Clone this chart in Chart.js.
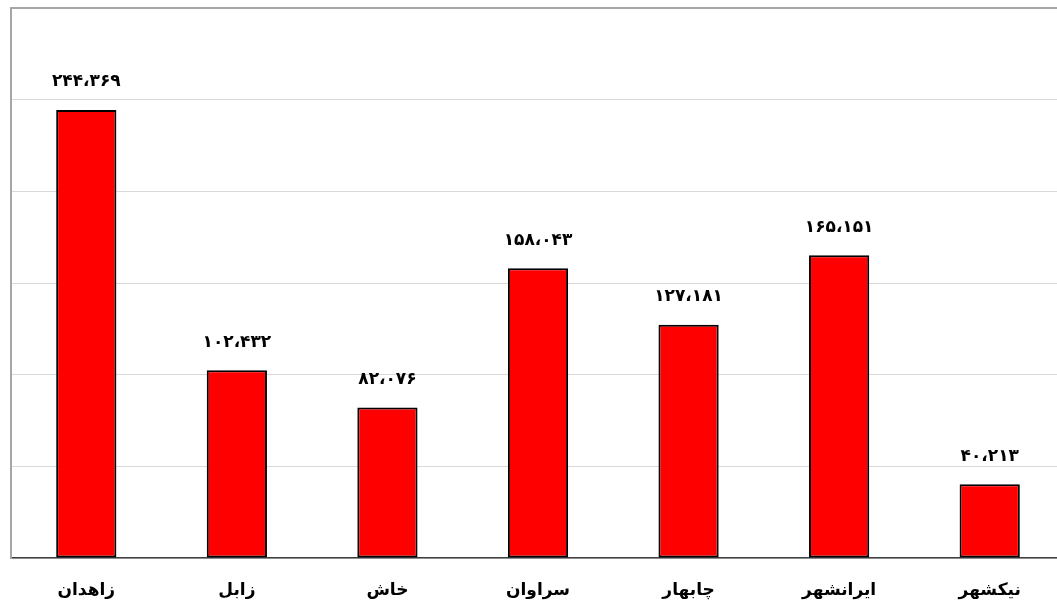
<!DOCTYPE html>
<html>
<head>
<meta charset="utf-8">
<script src="https://cdn.jsdelivr.net/npm/chart.js@4"></script>
<style>
  html, body { margin: 0; padding: 0; overflow: hidden; background: #fff; }
  #wrap { width: 1065px; height: 603px; }
</style>
</head>
<body>
<div id="wrap"><canvas id="cityChart" width="1065" height="603"></canvas></div>
<script>
const cities = ["زاهدان", "زابل", "خاش", "سراوان", "چابهار", "ایرانشهر", "نیکشهر"];
const population = [244369, 102432, 82076, 158043, 127181, 165151, 40213];
const yTicks = [0, 50000, 100000, 150000, 200000, 250000, 300000];

const faDigits = "۰۱۲۳۴۵۶۷۸۹";
function toFa(n) {
  const s = n.toString().replace(/\B(?=(\d{3})+(?!\d))/g, "،");
  return s.replace(/\d/g, (d) => faDigits[+d]);
}

const fontFamily = "'DejaVu Sans', 'Noto Sans', sans-serif";

// draws the value over each bar
const valueLabels = {
  id: "valueLabels",
  afterDatasetsDraw(chart) {
    const ctx = chart.ctx;
    const meta = chart.getDatasetMeta(0);
    ctx.save();
    ctx.font = "bold 17px " + fontFamily;
    ctx.fillStyle = "#000";
    ctx.textAlign = "center";
    ctx.textBaseline = "middle";
    meta.data.forEach((bar, i) => {
      ctx.fillText(toFa(population[i]), bar.x, bar.y - 28);
    });
    ctx.restore();
  },
};

const ctx = document.getElementById("cityChart");

new Chart(ctx, {
  type: "bar",
  data: {
    labels: cities,
    datasets: [
      {
        data: population,
        backgroundColor: "#ff0000",
        borderColor: "#000000",
        borderWidth: 2,
        borderSkipped: false,
        barPercentage: 0.8,
        categoryPercentage: 0.5,
      },
    ],
  },
  options: {
    responsive: false,
    animation: false,
    layout: { padding: { left: 10, top: 8, right: 0, bottom: 0 } },
    plugins: {
      legend: { display: false },
      tooltip: { enabled: false },
    },
    scales: {
      x: {
        grid: { display: false, drawTicks: false },
        border: { color: "#404040", width: 1.5 },
        ticks: {
          color: "#000",
          padding: 22,
          font: { family: fontFamily, size: 17, weight: "bold" },
        },
        afterFit(scale) { scale.height = 45; },
      },
      y: {
        min: 0,
        max: 300000,
        afterBuildTicks(scale) {
          scale.ticks = yTicks.map((v) => ({ value: v }));
        },
        ticks: { display: false },
        grid: {
          drawTicks: false,
          color: (c) => (c.tick && c.tick.value === 300000 ? "#a6a6a6" : "#d9d9d9"),
          lineWidth: (c) => (c.tick && c.tick.value === 300000 ? 2 : 1),
        },
        border: { color: "#a6a6a6", width: 2 },
        afterFit(scale) { scale.width = 1; },
      },
    },
  },
  plugins: [valueLabels],
});
</script>
</body>
</html>
